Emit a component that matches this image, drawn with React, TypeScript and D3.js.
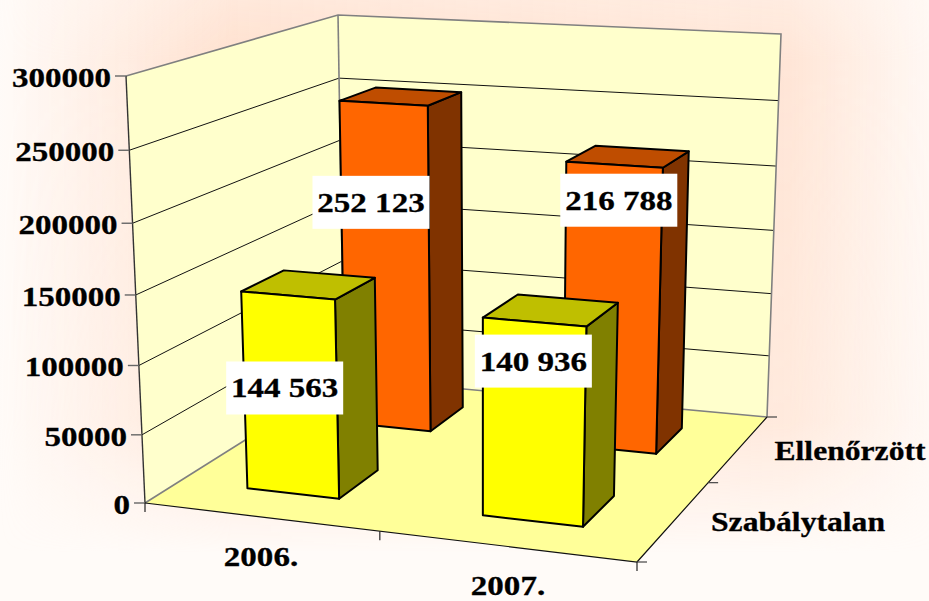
import React from "react";
import * as d3 from "d3";

const categories = ["2006.", "2007."];
const seriesNames = ["Szabálytalan", "Ellenőrzött"];
const szabalytalan = [144563, 140936];
const ellenorzott = [252123, 216788];
const valueLabels = [["144 563", "140 936"], ["252 123", "216 788"]];
const yTicks = [0, 50000, 100000, 150000, 200000, 250000, 300000];
const faceColors = [
  { front: "#FFFF00", side: "#808000", top: "#BFBF00" },
  { front: "#FF6600", side: "#803300", top: "#BF4D00" },
];
// manual label placement relative to the top-front-left corner of each bar
const labelShift = [[[-15, 70], [-8, 17]], [[-27, 75], [-6, 12]]];

type P = [number, number];
// projected corners of the chart box: front-left, front-right, back-right, back-left
const floorQuad: P[] = [[145, 503], [637, 562], [767, 417], [344, 378]];
const ceilQuad: P[] = [[126, 76], [650, 107], [781, 34], [338, 15]];
const perspective = 0.95;

function homography(q: P[]) {
  const [[x0, y0], [x1, y1], [x2, y2], [x3, y3]] = q;
  const dx1 = x1 - x2, dx2 = x3 - x2, sx = x0 - x1 + x2 - x3;
  const dy1 = y1 - y2, dy2 = y3 - y2, sy = y0 - y1 + y2 - y3;
  const den = dx1 * dy2 - dx2 * dy1;
  const g = (sx * dy2 - dx2 * sy) / den;
  const h = (dx1 * sy - sx * dy1) / den;
  const a = x1 - x0 + g * x1, b = x3 - x0 + h * x3;
  const d = y1 - y0 + g * y1, e = y3 - y0 + h * y3;
  return (u: number, w: number): P => {
    const k = g * u + h * w + 1;
    return [(a * u + b * w + x0) / k, (d * u + e * w + y0) / k];
  };
}
const floorAt = homography(floorQuad);
const ceilAt = homography(ceilQuad);
const yScale = d3.scaleLinear().domain([0, 300000]).range([0, 1]);
function project(u: number, value: number, w: number): P {
  const v = yScale(value);
  const t = (v * perspective) / (1 + v * (perspective - 1));
  const f = floorAt(u, w), c = ceilAt(u, w);
  return [f[0] + (c[0] - f[0]) * t, f[1] + (c[1] - f[1]) * t];
}
const xBand = d3.scaleBand<string>().domain(categories).range([0, 1]).paddingInner(0.6).paddingOuter(0.3);
const zBand = d3.scaleBand<string>().domain(seriesNames).range([0.005, 1.005]).paddingInner(0.6).paddingOuter(0.3);
const poly = (pts: P[]) => d3.line()(pts) + "Z";

const FONT = "'Liberation Serif','Times New Roman',serif";
function Label({ x, y, text, anchor = "middle", size = 28, sx = 1.18 }: any) {
  return (
    <text transform={`translate(${x},${y}) scale(${sx},1)`} textAnchor={anchor} fontFamily={FONT} fontWeight="bold" fontSize={size} fill="#000" stroke="#000" strokeWidth={0.3}>
      {text}
    </text>
  );
}

export default function App() {
  const bars = [1, 0].flatMap((s) =>
    categories.map((c, ci) => {
      const u0 = xBand(c)!, u1 = u0 + xBand.bandwidth();
      const w0 = zBand(seriesNames[s])!, w1 = w0 + zBand.bandwidth();
      const val = (s === 0 ? szabalytalan : ellenorzott)[ci];
      const fl0 = project(u0, 0, w0), fr0 = project(u1, 0, w0), br0 = project(u1, 0, w1);
      const fl1 = project(u0, val, w0), fr1 = project(u1, val, w0), br1 = project(u1, val, w1), bl1 = project(u0, val, w1);
      return { key: `${s}-${ci}`, s, ci, fl0, fr0, br0, fl1, fr1, br1, bl1 };
    })
  );
  const labels = bars.slice().sort((a, b) => a.s - b.s);
  return (
    <svg width={929} height={601} style={{ position: "absolute", left: 0, top: 0 }}>
      <defs>
        <linearGradient id="hg" x1="0" x2="1" y1="0" y2="0">
          <stop offset="0" stopColor="#FFE0CE" stopOpacity="0" />
          <stop offset="0.14" stopColor="#FFE0CE" stopOpacity="0.55" />
          <stop offset="0.25" stopColor="#FFE0CE" stopOpacity="1" />
          <stop offset="0.85" stopColor="#FFE0CE" stopOpacity="0.8" />
          <stop offset="1" stopColor="#FFE0CE" stopOpacity="0.1" />
        </linearGradient>
        <linearGradient id="vg" x1="0" x2="0" y1="0" y2="1">
          <stop offset="0" stopColor="#fff" stopOpacity="0.7" />
          <stop offset="0.1" stopColor="#fff" stopOpacity="1" />
          <stop offset="0.7" stopColor="#fff" stopOpacity="0.8" />
          <stop offset="0.92" stopColor="#fff" stopOpacity="0" />
        </linearGradient>
        <mask id="vm"><rect width={929} height={601} fill="url(#vg)" /></mask>
      </defs>
      <rect width={929} height={601} fill="#FFFBF8" />
      <rect width={929} height={601} fill="url(#hg)" mask="url(#vm)" />

      {/* walls */}
      <path d={poly([project(0, 0, 0), project(0, 300000, 0), project(0, 300000, 1), project(0, 0, 1)])} fill="#FFFFCC" />
      <path d={poly([project(0, 0, 1), project(0, 300000, 1), project(1, 300000, 1), project(1, 0, 1)])} fill="#FFFFCC" />
      <path d={poly([project(0, 0, 0), project(1, 0, 0), project(1, 0, 1), project(0, 0, 1)])} fill="#FFFF99" />

      {yTicks.slice(1, -1).map((t) => (
        <g key={t}>
          <path d={d3.line()([project(0, t, 0), project(0, t, 1), project(1, t, 1)])!} fill="none" stroke="#111" strokeWidth={1} />
        </g>
      ))}
      {/* wall borders */}
      <path d={d3.line()([project(0, 0, 0), project(0, 0, 1), project(1, 0, 1)])!} fill="none" stroke="#808080" strokeWidth={1.6} />
      <path d={d3.line()([project(0, 300000, 0), project(0, 300000, 1), project(1, 300000, 1), project(1, 0, 1)])!} fill="none" stroke="#808080" strokeWidth={1.6} />
      <path d={d3.line()([project(0, 300000, 1), project(0, 0, 1)])!} fill="none" stroke="#808080" strokeWidth={1.6} />
      <path d={d3.line()([project(0, 300000, 0), project(0, 0, 0)])!} fill="none" stroke="#333" strokeWidth={1.4} />
      <path d={d3.line()([project(0, 0, 0), project(1, 0, 0), project(1, 0, 1)])!} fill="none" stroke="#111" strokeWidth={1.2} />

      {/* ticks */}
      {yTicks.map((t) => {
        const p = project(0, t, 0);
        return (
          <g key={t}>
            <line x1={p[0] - 11} x2={p[0]} y1={p[1]} y2={p[1]} stroke="#666" strokeWidth={1.4} />
            <Label x={p[0] - 15} y={p[1] + 11} text={String(t)} anchor="end" />
          </g>
        );
      })}
      {[0, 0.5, 1].map((u) => {
        const p = project(u, 0, 0);
        return <line key={u} x1={p[0]} x2={p[0]} y1={p[1]} y2={p[1] + 9} stroke="#222" strokeWidth={1.2} />;
      })}
      {[0, 0.5, 1].map((w) => {
        const p = project(1, 0, w);
        return <line key={w} x1={p[0]} x2={p[0] + 10} y1={p[1]} y2={p[1]} stroke="#444" strokeWidth={1.2} />;
      })}

      {/* bars */}
      {bars.map((b) => {
        const col = faceColors[b.s];
        return (
          <g key={b.key} stroke="#000" strokeWidth={2} strokeLinejoin="round">
            <path d={poly([b.fr0, b.br0, b.br1, b.fr1])} fill={col.side} />
            <path d={poly([b.fl1, b.fr1, b.br1, b.bl1])} fill={col.top} />
            <path d={poly([b.fl0, b.fr0, b.fr1, b.fl1])} fill={col.front} />
          </g>
        );
      })}

      {/* value labels */}
      {labels.map((b) => {
        const [dx, dy] = labelShift[b.s][b.ci];
        const x = b.fl1[0] + dx, y = b.fl1[1] + dy;
        return (
          <g key={b.key}>
            <rect x={x} y={y} width={117} height={53} fill="#fff" />
            <Label x={x + 58.5} y={y + 36} text={valueLabels[b.s][b.ci]} />
          </g>
        );
      })}

      {/* category labels */}
      <Label x={261} y={566} text={categories[0]} />
      <Label x={508} y={595} text={categories[1]} />
      <Label x={798} y={531} text={seriesNames[0]} sx={1.13} />
      <Label x={850} y={460} text={seriesNames[1]} sx={1.13} />
    </svg>
  );
}
